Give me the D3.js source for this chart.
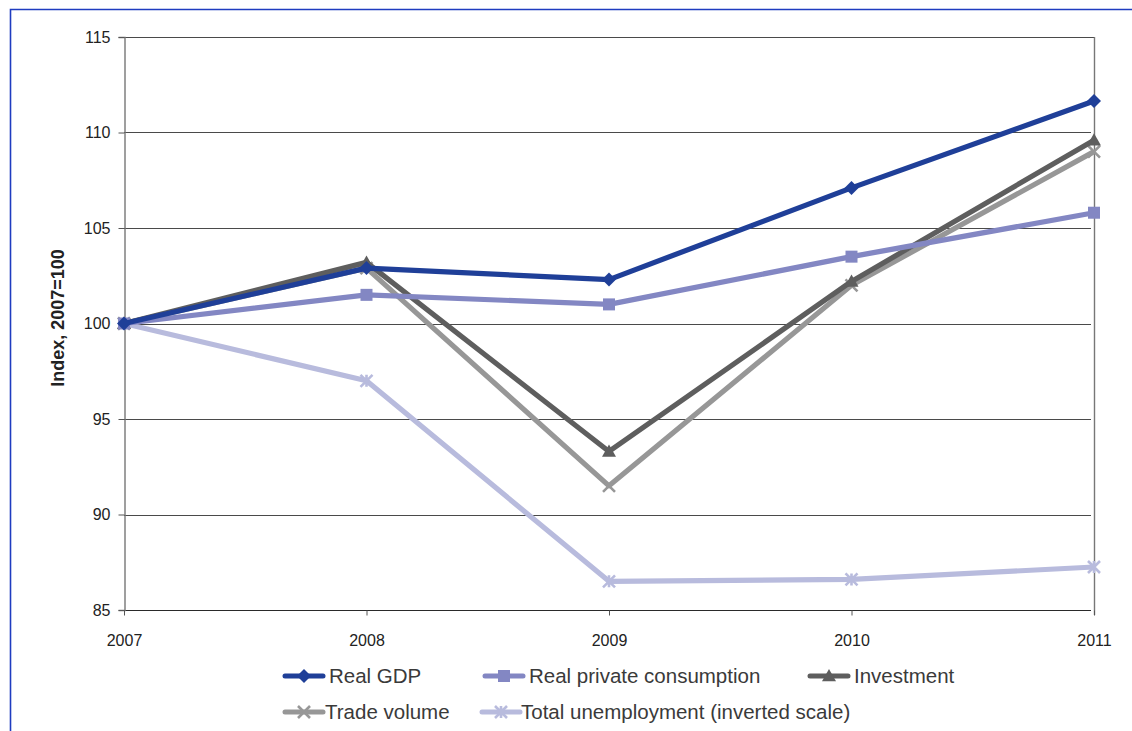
<!DOCTYPE html>
<html>
<head>
<meta charset="utf-8">
<script src="https://cdn.jsdelivr.net/npm/d3@7"></script>
<style>
  html, body { margin: 0; padding: 0; background: #fff; }
  svg { display: block; font-family: "Liberation Sans", Arial, sans-serif; }
</style>
</head>
<body>
<svg id="chart" width="1132" height="731"></svg>
<script>
// Years on the x axis
const years = [2007, 2008, 2009, 2010, 2011];
const yTicks = [85, 90, 95, 100, 105, 110, 115];

// Index values, 2007 = 100
const realGDP = [100, 102.9, 102.3, 107.1, 111.65];
const realConsumption = [100, 101.5, 101.0, 103.5, 105.8];
const investment = [100, 103.2, 93.3, 102.2, 109.6];
const tradeVolume = [100, 102.9, 91.5, 102.0, 109.0];
const unemployment = [100, 97.0, 86.5, 86.6, 87.25];

const seriesNames = ["Real GDP", "Real private consumption", "Investment", "Trade volume", "Total unemployment (inverted scale)"];

const series = [
  { name: seriesNames[0], values: realGDP, color: "#1f3f98", marker: "diamond" },
  { name: seriesNames[1], values: realConsumption, color: "#8387c3", marker: "square" },
  { name: seriesNames[2], values: investment, color: "#5e5e5e", marker: "triangle" },
  { name: seriesNames[3], values: tradeVolume, color: "#979797", marker: "cross" },
  { name: seriesNames[4], values: unemployment, color: "#b8bbdd", marker: "asterisk" }
];

const svg = d3.select("#chart");

// Outer frame (top and left edges)
svg.append("path")
  .attr("d", "M10.5,731 V9.5 H1132")
  .attr("fill", "none")
  .attr("stroke", "#1f3cc0")
  .attr("stroke-width", 1.6);

const plot = { left: 124, right: 1094, top: 37, bottom: 610 };

const x = d3.scalePoint().domain(years).range([plot.left, plot.right]);
const y = d3.scaleLinear().domain([85, 115]).range([plot.bottom, plot.top]);

// Horizontal gridlines
svg.append("g")
  .selectAll("line")
  .data(yTicks)
  .join("line")
  .attr("x1", plot.left)
  .attr("x2", d => d === 115 ? plot.right : plot.right - 3)
  .attr("y1", d => Math.round(y(d)) + 0.5)
  .attr("y2", d => Math.round(y(d)) + 0.5)
  .attr("stroke", d => d === 85 ? "#2a2a2a" : "#4a4a4a")
  .attr("stroke-width", 1.1);

// Right boundary at the last year
svg.append("line")
  .attr("x1", plot.right + 0.5).attr("x2", plot.right + 0.5)
  .attr("y1", plot.top).attr("y2", plot.bottom + 5)
  .attr("stroke", "#777").attr("stroke-width", 1.4);

// Y axis
const yAxis = svg.append("g")
  .attr("transform", `translate(${plot.left + 0.5},0)`)
  .call(d3.axisLeft(y).tickValues(yTicks).tickSize(6).tickPadding(8).tickFormat(d3.format("d")));
yAxis.attr("font-size", null).attr("font-family", null);
yAxis.select(".domain").attr("stroke", "#777").attr("stroke-width", 1.4);
yAxis.selectAll(".tick line").attr("stroke", "#555");
yAxis.selectAll(".tick text")
  .style("font-size", "16px")
  .attr("fill", "#222");

// X axis
const xAxis = svg.append("g")
  .attr("transform", `translate(0,${Math.round(y(85)) + 0.5})`)
  .call(d3.axisBottom(x).tickSize(5).tickPadding(19).tickFormat(d3.format("d")));
xAxis.attr("font-size", null).attr("font-family", null);
xAxis.select(".domain").remove();
xAxis.selectAll(".tick line").attr("stroke", "#555");
xAxis.selectAll(".tick text")
  .style("font-size", "16px")
  .attr("fill", "#222");

// Y axis title
svg.append("text")
  .attr("transform", `translate(64,318) rotate(-90)`)
  .attr("text-anchor", "middle")
  .style("font-size", "18px")
  .attr("font-weight", "bold")
  .attr("fill", "#222")
  .text("Index, 2007=100");

// Marker shapes
function drawMarker(g, type, cx, cy, color, s) {
  s = s || 1;
  if (type === "diamond") {
    const r = 7 * s;
    g.append("path").attr("d", `M${cx},${cy - r} L${cx + r},${cy} L${cx},${cy + r} L${cx - r},${cy} Z`).attr("fill", color);
  } else if (type === "square") {
    const h = 6 * s;
    g.append("rect").attr("x", cx - h).attr("y", cy - h).attr("width", 2 * h).attr("height", 2 * h).attr("fill", color);
  } else if (type === "triangle") {
    const h = 7 * s;
    g.append("path").attr("d", `M${cx},${cy - h} L${cx + h},${cy + h * 0.75} L${cx - h},${cy + h * 0.75} Z`).attr("fill", color);
  } else if (type === "cross") {
    const h = 6 * s;
    g.append("path").attr("d", `M${cx - h},${cy - h} L${cx + h},${cy + h} M${cx - h},${cy + h} L${cx + h},${cy - h}`)
      .attr("stroke", color).attr("stroke-width", 2.6).attr("fill", "none");
  } else if (type === "asterisk") {
    const h = 6 * s;
    g.append("path").attr("d", `M${cx - h},${cy - h} L${cx + h},${cy + h} M${cx - h},${cy + h} L${cx + h},${cy - h} M${cx},${cy - h} L${cx},${cy + h}`)
      .attr("stroke", color).attr("stroke-width", 2.6).attr("fill", "none");
  }
}

const line = d3.line().x((d, i) => x(years[i])).y(d => y(d));

// Draw series, first-listed on top
const seriesLayer = svg.append("g");
series.slice().reverse().forEach(s => {
  const g = seriesLayer.append("g");
  g.append("path")
    .attr("d", line(s.values))
    .attr("fill", "none")
    .attr("stroke", s.color)
    .attr("stroke-width", 5.2)
    .attr("stroke-linejoin", "round");
  s.values.forEach((v, i) => drawMarker(g, s.marker, x(years[i]), y(v), s.color, 1));
});

// Legend
const legendItems = [
  { s: series[0], lx: 283, ly: 676 },
  { s: series[1], lx: 483, ly: 676 },
  { s: series[2], lx: 808, ly: 676 },
  { s: series[3], lx: 283, ly: 712 },
  { s: series[4], lx: 480, ly: 712 }
];
const legend = svg.append("g");
legendItems.forEach(it => {
  const g = legend.append("g");
  g.append("line")
    .attr("x1", it.lx + 2).attr("x2", it.lx + 40)
    .attr("y1", it.ly).attr("y2", it.ly)
    .attr("stroke", it.s.color).attr("stroke-width", 5).attr("stroke-linecap", "round");
  drawMarker(g, it.s.marker, it.lx + 21, it.ly, it.s.color, 1);
  g.append("text")
    .attr("x", it.lx + (it.s.marker === "cross" ? 42 : (it.s.marker === "asterisk" ? 41 : 46)))
    .attr("y", it.ly + 7)
    .style("font-size", "20.5px")
    .attr("fill", "#3a3a3a")
    .text(it.s.name);
});
</script>
</body>
</html>
